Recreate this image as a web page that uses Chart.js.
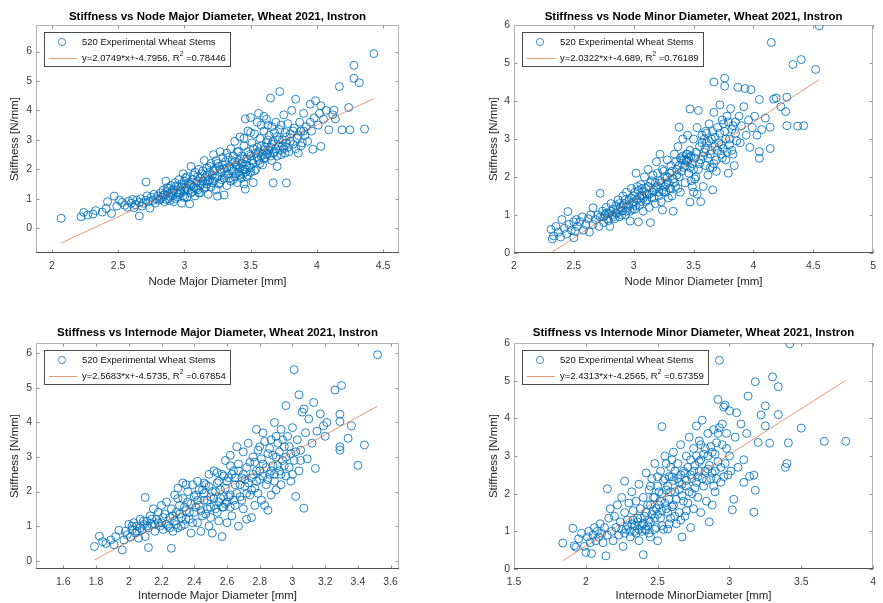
<!DOCTYPE html>
<html><head><meta charset="utf-8">
<script src="https://cdn.jsdelivr.net/npm/chart.js@4.4.0/dist/chart.umd.min.js"></script>
<style>
html,body{margin:0;padding:0;background:#fff;}
#wrap{position:relative;width:883px;height:603px;overflow:hidden;background:#fff;}
canvas{position:absolute;}
</style></head><body>
<div id="wrap">
<canvas id="c1" width="441" height="300" style="left:0;top:0"></canvas>
<canvas id="c2" width="442" height="300" style="left:441px;top:0"></canvas>
<canvas id="c3" width="441" height="303" style="left:0;top:300px"></canvas>
<canvas id="c4" width="442" height="303" style="left:441px;top:300px"></canvas>
</div>
<script>
// ---------- data ----------
const nodeMajorPts = [
[2.07,0.34],[2.22,0.39],[2.24,0.54],[2.27,0.45],[2.31,0.48],[2.33,0.6],[2.38,0.55],[2.41,0.67],[2.42,0.9],[2.45,0.5],[2.47,1.09],[2.49,0.75],
[2.51,0.95],[2.53,0.88],[2.55,0.78],[2.57,0.72],[2.58,0.92],[2.6,0.85],[2.61,0.98],[2.62,0.7],[2.63,0.8],[2.64,0.95],[2.66,0.42],[2.66,0.88],[2.67,1.0],[2.68,0.75],[2.69,0.85],[2.71,1.57],[2.71,0.95],[2.72,1.1],[2.73,0.9],[2.74,0.68],[2.75,1.05],[2.76,0.95],[2.77,1.15],[2.78,0.85],[2.79,1.0],
[2.8,1.1],[2.81,0.95],[2.82,1.2],[2.83,1.05],[2.84,1.3],[2.85,0.9],[2.85,1.15],[2.86,1.6],[2.87,1.25],[2.88,1.0],[2.88,1.35],[2.89,0.94],[2.9,1.2],[2.9,1.45],[2.91,1.1],[2.92,1.3],[2.93,1.0],[2.93,1.55],[2.94,1.2],[2.95,1.4],[2.96,1.15],[2.96,1.65],[2.97,1.3],[2.98,0.85],[2.98,1.5],[2.99,1.1],[2.99,1.85],
[3.0,1.25],[3.0,1.6],[3.01,1.4],[3.02,1.05],[3.02,1.75],[3.03,1.3],[3.04,0.83],[3.04,1.5],[3.05,2.1],[3.05,1.2],[3.06,1.65],[3.07,1.4],[3.08,1.9],[3.08,1.1],[3.09,1.55],[3.1,1.3],[3.1,1.75],[3.11,2.0],[3.12,1.45],[3.12,1.2],[3.13,1.85],[3.14,1.6],[3.15,2.3],[3.15,1.35],[3.16,1.75],[3.17,1.5],[3.17,2.05],[3.18,1.15],[3.19,1.9],[3.19,1.65],
[3.2,2.2],[3.2,1.4],[3.21,1.8],[3.22,2.5],[3.22,1.6],[3.23,2.0],[3.24,1.3],[3.24,2.3],[3.25,1.09],[3.25,1.75],[3.26,2.1],[3.27,2.6],[3.27,1.55],[3.28,1.9],[3.29,2.4],[3.3,1.13],[3.3,2.0],[3.3,1.7],[3.31,2.25],[3.32,2.55],[3.32,1.45],[3.33,1.85],[3.34,2.1],[3.35,2.7],[3.35,1.6],[3.36,2.3],[3.37,1.95],[3.37,2.45],[3.38,1.75],[3.38,2.95],[3.39,2.15],
[3.4,1.55],[3.4,2.6],[3.41,1.9],[3.41,2.3],[3.42,3.1],[3.42,2.05],[3.43,1.7],[3.43,2.45],[3.44,2.2],[3.44,1.85],[3.45,2.8],[3.45,1.5],[3.46,1.33],[3.46,2.0],[3.46,3.71],[3.47,2.35],[3.47,1.75],[3.48,2.6],[3.48,3.3],[3.49,2.1],[3.5,3.76],[3.5,1.9],[3.5,2.45],[3.51,2.9],[3.52,1.55],[3.52,2.2],[3.53,3.2],[3.54,2.55],[3.54,2.0],[3.55,2.75],[3.56,3.9],[3.56,2.3],[3.57,3.05],[3.58,2.45],[3.58,3.5],[3.59,2.15],
[3.6,2.65],[3.6,3.3],[3.61,2.4],[3.62,2.9],[3.62,3.7],[3.63,2.55],[3.64,3.15],[3.65,4.42],[3.65,2.75],[3.66,2.3],[3.66,3.45],[3.67,1.54],[3.67,2.95],[3.68,2.6],[3.69,3.6],[3.7,2.1],[3.7,3.1],[3.71,2.8],[3.72,4.64],[3.72,3.35],[3.73,2.5],[3.74,3.0],[3.75,3.85],[3.75,2.7],[3.76,3.25],[3.77,1.54],[3.77,2.9],[3.78,3.55],[3.79,2.6],
[3.8,3.2],[3.81,4.0],[3.82,2.85],[3.83,3.4],[3.84,4.38],[3.85,3.05],[3.86,2.55],[3.87,3.6],[3.88,3.3],[3.89,2.9],[3.9,3.9],[3.91,3.15],[3.92,3.45],[3.93,2.95],[3.95,4.21],[3.95,3.6],[3.96,3.3],[3.97,2.68],[3.98,3.75],[3.99,4.33],
[4.01,3.5],[4.02,3.9],[4.03,2.78],[4.03,4.16],[4.05,3.7],[4.07,4.0],[4.09,3.34],[4.12,3.85],[4.13,4.01],[4.14,3.71],[4.17,4.81],[4.19,3.34],[4.24,4.1],[4.25,3.34],[4.28,5.53],[4.28,5.09],[4.32,4.94],[4.36,3.37],[4.43,5.93],
[2.82,1.0],[2.84,1.12],[2.86,0.98],[2.87,1.38],[2.89,1.08],[2.91,1.28],[2.92,0.9],[2.94,1.45],[2.95,1.05],[2.97,1.22],[2.98,1.4],[3.0,1.05],[3.01,1.7],[3.02,1.35],[3.03,1.55],[3.05,1.45],[3.06,1.25],[3.07,1.8],[3.09,1.35],[3.1,1.6],[3.11,1.2],[3.12,1.7],[3.13,1.5],[3.14,1.95],[3.16,1.4],[3.17,1.8],[3.18,1.6],[3.19,2.1],[3.21,1.55],[3.22,1.95],[3.23,1.7],[3.25,2.2],[3.26,1.5],[3.27,2.0],[3.28,1.65],[3.29,2.15],[3.31,1.8],[3.32,2.05],[3.33,2.4],[3.34,1.7],[3.36,2.0],[3.37,1.65],[3.38,2.25],[3.39,1.85],[3.4,2.1],[3.41,2.6],[3.42,1.8],[3.43,2.2],[3.44,2.0],[3.45,2.35],[3.46,1.9],[3.47,2.15],[3.48,1.8],[3.49,2.5],[3.5,2.05],[3.51,2.3],[3.52,2.7],[3.53,1.95],[3.55,2.4],[3.56,2.6],[3.57,2.2],[3.58,2.8],[3.59,2.5],[3.6,2.35],[3.61,2.75],[3.62,2.5],[3.63,3.0],[3.64,2.65],[3.65,2.45],[3.66,2.85],[3.67,2.55],[3.68,3.25],[3.69,2.7],[3.7,2.45],[3.71,3.0],[3.72,2.65],[3.73,3.5],[3.74,2.8],[3.76,2.55],[3.77,3.1],[3.78,2.75],[3.8,2.95],[3.82,3.3],[3.84,2.7],[3.86,3.15],[3.88,2.8],[3.9,3.3],[3.5,3.25],[3.45,3.05],[3.55,3.6],[3.6,3.8],[3.63,3.5]
];
const nodeMinorPts = [
[2.31,0.62],[2.32,0.37],[2.33,0.45],[2.35,0.7],[2.37,0.55],[2.39,0.42],[2.4,0.88],[2.42,0.65],[2.44,0.5],[2.45,1.09],[2.46,0.75],[2.48,0.6],[2.5,0.4],[2.5,0.82],[2.51,0.57],[2.52,0.88],[2.53,0.7],[2.55,0.82],[2.57,0.95],[2.58,0.6],[2.6,0.75],[2.62,0.9],[2.63,0.55],[2.64,1.0],[2.66,1.19],[2.66,0.75],[2.68,0.88],[2.7,1.0],[2.71,0.7],[2.72,1.57],[2.72,0.95],[2.74,1.1],[2.75,0.8],[2.76,1.0],[2.77,1.2],[2.78,0.9],[2.79,1.05],[2.8,0.7],[2.81,1.3],[2.82,1.0],[2.83,1.15],[2.84,0.9],[2.85,1.25],[2.86,1.05],[2.87,1.4],[2.88,0.95],[2.89,1.2],[2.9,1.1],[2.91,1.5],[2.92,1.3],[2.93,1.0],[2.94,1.6],[2.95,1.2],[2.96,1.4],[2.97,0.84],[2.97,1.1],[2.98,1.7],[2.99,1.3],
[3.0,1.5],[3.01,1.15],[3.02,2.1],[3.03,1.4],[3.04,0.82],[3.04,1.65],[3.05,1.25],[3.06,1.8],[3.07,1.5],[3.08,1.1],[3.09,2.0],[3.1,1.35],[3.1,1.7],[3.11,1.55],[3.12,2.2],[3.13,1.2],[3.14,0.8],[3.14,1.85],[3.15,1.45],[3.16,2.05],[3.17,1.65],[3.18,1.3],[3.19,2.4],[3.2,1.75],[3.21,1.5],[3.22,2.6],[3.22,1.9],[3.23,1.35],[3.24,1.13],[3.24,2.2],[3.25,1.6],[3.26,2.0],[3.27,1.8],[3.28,2.45],[3.29,1.45],[3.3,2.1],[3.3,1.7],
[3.31,2.3],[3.32,1.5],[3.33,1.1],[3.33,1.95],[3.34,2.6],[3.35,1.75],[3.36,2.2],[3.37,2.8],[3.38,3.31],[3.38,2.0],[3.39,1.6],[3.4,2.45],[3.41,3.0],[3.42,2.25],[3.43,1.85],[3.44,2.6],[3.45,2.4],[3.45,3.1],[3.46,2.1],[3.47,1.34],[3.47,3.79],[3.47,2.7],[3.48,1.9],[3.49,2.35],[3.5,3.0],[3.5,1.6],[3.51,2.5],[3.52,2.0],[3.53,3.3],[3.54,3.75],[3.54,2.2],[3.55,2.8],[3.56,1.35],[3.56,2.45],[3.57,3.1],[3.58,1.75],[3.59,2.65],[3.6,3.2],
[3.6,2.3],[3.61,2.9],[3.62,2.05],[3.63,3.4],[3.64,2.6],[3.65,3.0],[3.66,1.66],[3.66,2.25],[3.67,4.5],[3.67,3.7],[3.68,2.8],[3.69,2.45],[3.7,3.3],[3.71,2.9],[3.72,3.9],[3.73,2.6],[3.74,3.5],[3.75,2.75],[3.76,4.6],[3.76,4.39],[3.76,3.2],[3.77,2.45],[3.78,3.6],[3.79,2.1],[3.8,3.0],[3.81,3.8],[3.82,2.7],[3.83,3.35],[3.84,2.3],
[3.85,3.15],[3.87,4.36],[3.88,3.6],[3.89,2.9],[3.9,3.35],[3.92,3.85],[3.93,4.33],[3.94,3.1],[3.96,3.5],[3.97,2.78],[3.98,4.3],[3.99,3.3],[4.01,3.6],[4.03,3.1],[4.05,4.04],[4.05,2.67],[4.05,2.49],[4.07,3.25],[4.1,3.55],[4.14,3.31],[4.14,2.75],[4.15,5.54],[4.17,4.05],[4.19,4.08],[4.23,3.85],[4.27,3.72],[4.28,3.35],[4.28,4.1],[4.33,4.96],[4.37,3.34],[4.4,5.09],[4.42,3.35],[4.52,4.83],[4.55,5.98],
[2.75,0.95],[2.77,1.05],[2.79,0.85],[2.81,1.1],[2.83,0.95],[2.85,1.05],[2.87,1.15],[2.88,1.3],[2.9,1.0],[2.91,1.25],[2.93,1.4],[2.94,1.1],[2.96,1.25],[2.98,1.45],[2.99,1.15],[3.0,1.35],[3.01,1.6],[3.02,1.25],[3.03,1.75],[3.05,1.5],[3.06,1.35],[3.07,1.7],[3.08,1.45],[3.09,1.6],[3.11,1.4],[3.12,1.75],[3.13,1.55],[3.15,1.9],[3.16,1.6],[3.17,1.45],[3.18,1.85],[3.19,1.7],[3.2,2.1],[3.21,1.6],[3.23,1.85],[3.24,1.65],[3.25,2.15],[3.26,1.75],[3.27,1.6],[3.28,2.0],[3.29,1.85],[3.31,1.7],[3.32,2.15],[3.34,1.85],[3.35,2.4],[3.36,2.05],[3.37,1.7],[3.38,2.3],[3.39,2.5],[3.4,2.15],[3.41,2.55],[3.42,2.45],[3.43,2.3],[3.44,2.45],[3.45,2.6],[3.46,2.5],[3.47,2.25],[3.48,2.55],[3.49,1.75],[3.5,2.2],[3.51,1.95],[3.52,2.65],[3.53,1.55],[3.55,2.35],[3.57,2.9],[3.58,2.55],[3.59,3.0],[3.6,2.75],[3.61,3.15],[3.62,2.5],[3.63,2.95],[3.64,2.25],[3.65,2.7],[3.66,3.2],[3.67,2.35],[3.68,3.05],[3.69,2.15],[3.7,2.7],[3.72,3.15],[3.73,2.85],[3.74,2.5],[3.75,3.4],[3.77,3.0],[3.78,2.65],[3.79,3.45],[3.8,2.85],[3.82,3.25],[3.83,2.6],[3.85,3.45],[3.86,2.95]
];
const internodeMajorPts = [
[1.79,0.41],[1.82,0.71],[1.84,0.55],[1.86,0.5],[1.89,0.6],[1.91,0.46],[1.92,0.7],[1.94,0.88],[1.96,0.31],[1.97,0.6],[1.98,0.85],[1.99,0.75],[2.0,1.05],[2.01,0.68],[2.02,0.9],[2.03,1.1],[2.04,0.8],[2.05,1.0],[2.06,0.65],[2.07,1.2],[2.08,0.9],[2.09,1.05],[2.1,1.83],[2.1,0.7],[2.11,1.15],[2.12,0.38],[2.12,0.95],[2.13,1.3],[2.14,1.05],[2.15,1.5],[2.16,0.85],[2.17,1.2],[2.18,1.4],[2.19,1.0],
[2.2,1.6],[2.2,1.1],[2.21,0.9],[2.22,1.35],[2.23,1.7],[2.24,1.0],[2.25,1.25],[2.26,0.36],[2.26,1.5],[2.27,0.85],[2.28,1.9],[2.28,1.15],[2.29,1.4],[2.3,2.1],[2.3,0.95],[2.31,1.6],[2.32,1.25],[2.33,1.8],[2.33,2.25],[2.34,1.05],[2.35,1.45],[2.36,2.0],[2.37,1.2],[2.38,0.8],[2.38,1.65],[2.39,2.2],
[2.4,1.4],[2.41,1.9],[2.42,1.1],[2.42,2.3],[2.43,1.6],[2.44,0.85],[2.45,2.05],[2.45,1.3],[2.46,1.75],[2.47,2.2],[2.48,1.5],[2.49,1.0],[2.49,2.5],[2.5,1.85],[2.5,1.25],[2.51,0.8],[2.52,2.6],[2.52,1.6],[2.53,2.0],[2.54,1.4],[2.55,2.3],[2.55,1.15],[2.56,1.8],[2.57,0.7],[2.57,2.5],[2.58,1.55],[2.59,2.1],[2.59,2.9],
[2.6,1.7],[2.6,1.1],[2.61,2.4],[2.62,3.05],[2.62,1.9],[2.63,1.3],[2.64,2.6],[2.65,2.2],[2.65,1.6],[2.66,3.3],[2.67,1.0],[2.67,2.8],[2.68,1.85],[2.69,2.4],[2.7,3.15],[2.7,1.5],[2.71,2.15],[2.72,1.2],[2.72,2.7],[2.73,3.4],[2.74,1.9],[2.75,2.4],[2.75,1.25],[2.76,3.0],[2.77,2.1],[2.77,1.6],[2.78,3.8],[2.78,2.6],[2.79,1.95],
[2.8,3.3],[2.8,2.35],[2.81,1.75],[2.82,3.7],[2.82,2.8],[2.83,1.6],[2.84,2.2],[2.85,1.46],[2.85,3.1],[2.86,2.5],[2.87,3.5],[2.87,1.9],[2.88,2.75],[2.89,4.0],[2.89,2.3],[2.9,3.0],[2.9,2.05],[2.91,3.4],[2.92,2.6],[2.93,3.8],[2.93,2.2],[2.94,2.9],[2.95,3.3],[2.96,4.49],[2.96,2.45],[2.97,3.6],[2.98,2.7],[2.99,3.1],[2.99,2.3],
[3.0,3.85],[3.01,5.53],[3.01,2.9],[3.02,1.86],[3.03,3.5],[3.04,4.8],[3.04,2.6],[3.05,3.2],[3.06,4.3],[3.07,1.52],[3.07,4.39],[3.08,3.7],[3.09,2.95],[3.1,4.1],[3.12,3.4],[3.13,4.58],[3.14,2.67],[3.15,3.75],[3.17,4.25],[3.19,3.9],[3.2,3.6],[3.21,4.0],[3.26,4.94],[3.29,4.24],[3.29,4.03],[3.29,3.3],[3.29,3.2],[3.3,5.07],[3.34,3.54],[3.36,3.9],[3.4,2.76],[3.44,3.35],[3.52,5.96],
[2.02,1.0],[2.05,0.85],[2.07,0.95],[2.09,1.15],[2.11,1.0],[2.14,1.2],[2.16,1.05],[2.18,1.1],[2.21,1.25],[2.23,1.05],[2.25,0.95],[2.27,1.3],[2.29,1.05],[2.31,1.35],[2.32,1.0],[2.34,1.55],[2.35,1.2],[2.36,1.7],[2.37,1.4],[2.39,1.1],[2.4,1.85],[2.41,1.55],[2.42,1.75],[2.43,2.05],[2.44,1.45],[2.46,1.95],[2.47,1.35],[2.48,1.75],[2.49,2.15],[2.5,1.55],[2.51,2.0],[2.52,1.8],[2.53,1.5],[2.54,2.25],[2.55,1.7],[2.56,2.05],[2.57,1.55],[2.58,1.85],[2.59,1.65],[2.6,2.3],[2.61,1.85],[2.62,1.55],[2.63,2.5],[2.64,1.75],[2.65,2.4],[2.66,1.95],[2.67,2.6],[2.68,2.2],[2.69,1.75],[2.7,2.5],[2.71,2.35],[2.72,1.95],[2.73,2.25],[2.74,2.85],[2.75,2.05],[2.76,2.5],[2.77,2.85],[2.78,2.3],[2.79,3.2],[2.8,2.6],[2.81,2.95],[2.82,2.45],[2.83,3.45],[2.84,2.7],[2.85,2.35],[2.86,3.25],[2.87,2.6],[2.88,3.05],[2.89,2.5],[2.9,3.6],[2.91,2.75],[2.92,3.15],[2.93,2.5],[2.94,3.5],[2.95,2.75],[2.96,3.0],[2.98,3.3],[3.0,2.5],[3.02,3.15],[3.05,2.9],[2.62,2.75],[2.58,2.45],[2.54,2.55],[2.46,2.25],[2.35,2.2],[2.3,1.8]
];
const internodeMinorPts = [
[1.84,0.69],[1.91,1.08],[1.92,0.62],[1.93,0.58],[1.95,0.8],[1.97,0.95],[1.99,0.6],[2.0,0.44],[2.01,0.85],[2.02,1.0],[2.03,0.7],[2.04,0.41],[2.05,0.9],[2.06,1.1],[2.07,0.75],[2.08,1.0],[2.09,0.85],[2.1,1.2],[2.11,0.95],[2.12,0.7],[2.13,1.1],[2.14,0.35],[2.15,2.13],[2.15,0.9],[2.16,1.35],[2.17,1.6],[2.18,1.0],[2.19,0.75],
[2.2,1.4],[2.21,1.1],[2.22,1.7],[2.23,0.9],[2.24,1.25],[2.25,1.9],[2.26,0.6],[2.27,2.33],[2.27,1.5],[2.28,1.05],[2.29,1.3],[2.3,1.75],[2.31,0.85],[2.32,2.05],[2.32,1.2],[2.33,1.55],[2.34,1.0],[2.35,1.8],[2.36,1.35],[2.37,2.25],[2.37,0.75],[2.38,1.6],[2.39,1.15],
[2.4,0.38],[2.4,1.9],[2.41,1.4],[2.42,2.55],[2.42,1.05],[2.43,1.7],[2.44,2.1],[2.45,1.25],[2.45,0.85],[2.46,2.4],[2.47,1.55],[2.48,1.9],[2.48,2.8],[2.49,1.1],[2.5,2.2],[2.5,0.75],[2.51,1.7],[2.52,2.6],[2.52,1.35],[2.53,3.78],[2.53,2.0],[2.54,1.05],[2.55,2.4],[2.55,3.0],[2.56,1.6],[2.57,1.06],[2.57,2.2],[2.58,1.85],[2.59,2.7],[2.59,1.35],
[2.6,2.45],[2.61,3.1],[2.61,1.7],[2.62,2.05],[2.63,1.2],[2.64,2.8],[2.65,2.3],[2.65,1.5],[2.66,3.3],[2.67,0.85],[2.67,1.95],[2.68,2.6],[2.69,1.4],[2.7,3.0],[2.7,2.2],[2.71,1.75],[2.72,3.5],[2.73,1.1],[2.73,2.5],[2.74,2.0],[2.75,3.2],[2.75,1.6],[2.76,2.75],[2.77,3.8],[2.77,2.3],[2.78,1.9],[2.79,3.4],[2.79,2.6],
[2.8,1.5],[2.8,2.9],[2.81,3.95],[2.82,2.2],[2.83,3.2],[2.84,1.8],[2.85,2.65],[2.85,3.6],[2.86,1.25],[2.87,2.4],[2.88,3.1],[2.88,1.7],[2.89,3.7],[2.9,2.6],[2.9,2.05],[2.91,3.35],[2.92,4.5],[2.92,2.85],[2.93,5.54],[2.93,3.75],[2.94,2.3],[2.95,3.3],[2.96,4.3],[2.97,4.35],[2.97,2.8],[2.98,3.6],[2.99,2.5],
[3.0,4.2],[3.0,3.0],[3.01,2.6],[3.02,1.57],[3.03,1.85],[3.04,3.5],[3.05,4.15],[3.06,2.7],[3.08,3.85],[3.1,2.3],[3.1,2.9],[3.12,3.6],[3.13,4.59],[3.14,2.46],[3.17,2.49],[3.17,1.51],[3.18,4.97],[3.18,2.09],[3.2,3.36],[3.22,4.09],[3.25,4.33],[3.25,3.8],[3.28,3.34],[3.3,5.1],[3.34,4.84],[3.34,4.1],[3.39,2.7],[3.4,2.8],[3.41,3.35],[3.42,5.98],[3.5,3.74],[3.66,3.39],[3.81,3.39],
[2.25,1.05],[2.27,0.95],[2.29,1.15],[2.31,1.0],[2.33,1.3],[2.34,1.15],[2.35,0.95],[2.36,1.25],[2.37,1.05],[2.38,1.35],[2.39,1.0],[2.4,1.2],[2.41,1.05],[2.42,1.5],[2.43,1.15],[2.44,1.3],[2.45,1.7],[2.46,1.45],[2.47,1.9],[2.48,1.35],[2.49,1.6],[2.5,1.45],[2.51,2.05],[2.52,1.8],[2.53,1.55],[2.54,2.35],[2.55,1.75],[2.56,2.1],[2.57,1.5],[2.58,2.45],[2.59,2.05],[2.6,1.65],[2.61,2.35],[2.62,2.6],[2.63,1.85],[2.64,2.4],[2.65,2.1],[2.66,2.5],[2.67,2.25],[2.68,1.8],[2.69,2.55],[2.7,2.35],[2.71,2.7],[2.72,2.05],[2.73,2.9],[2.74,2.4],[2.75,2.6],[2.76,2.15],[2.77,3.0],[2.78,2.45],[2.79,2.85],[2.8,3.3],[2.81,2.4],[2.82,3.05],[2.83,2.6],[2.84,2.35],[2.85,3.0],[2.86,2.75],[2.87,3.25],[2.88,2.55],[2.89,2.2],[2.9,3.05],[2.91,2.4],[2.92,3.6],[2.94,2.7],[2.95,3.85],[2.96,2.45],[2.98,3.2],[2.5,2.45],[2.45,2.2],[2.56,2.8],[2.6,2.9],[2.66,1.3],[2.7,1.55],[2.62,1.4],[2.58,1.2],[2.53,1.15],[2.48,1.05],[2.44,0.95]
];

// linear-fit end points
const nodeMajorFitX = [2.07, 4.43];       const nodeMajorFitY = [-0.50, 4.40];
const nodeMinorFitX = [2.32, 4.55];       const nodeMinorFitY = [0.03, 4.56];
const internodeMajorFitX = [1.79, 3.52];  const internodeMajorFitY = [0.02, 4.47];
const internodeMinorFitX = [1.84, 3.81];  const internodeMinorFitY = [0.22, 5.01];

// tick labels
const nodeMajorXTicks = [2, 2.5, 3, 3.5, 4, 4.5];
const nodeMinorXTicks = [2, 2.5, 3, 3.5, 4, 4.5, 5];
const internodeMajorXTicks = [1.6, 1.8, 2, 2.2, 2.4, 2.6, 2.8, 3, 3.2, 3.4, 3.6];
const internodeMinorXTicks = [1.5, 2, 2.5, 3, 3.5, 4];
const stiffnessTicks = [0, 1, 2, 3, 4, 5, 6];

// texts
const titles = [
  'Stiffness vs Node Major Diameter, Wheat 2021, Instron',
  'Stiffness vs Node Minor Diameter, Wheat 2021, Instron',
  'Stiffness vs Internode Major Diameter, Wheat 2021, Instron',
  'Stiffness vs Internode Minor Diameter, Wheat 2021, Instron'
];
const xLabels = ['Node Major Diameter [mm]', 'Node Minor Diameter [mm]', 'Internode Major Diameter [mm]', 'Internode MinorDiameter [mm]'];
const yLabel = 'Stiffness [N/mm]';
const seriesLabel = '520 Experimental Wheat Stems';
const fitEquations = ['y=2.0749*x+-4.7956', 'y=2.0322*x+-4.689', 'y=2.5683*x+-4.5735', 'y=2.4313*x+-4.2565'];
const r2Values = ['0.78446', '0.76189', '0.67854', '0.57359'];

// ---------- drawing ----------
const FONT = "'Liberation Sans', Arial, Helvetica, sans-serif";
const BLUE = 'rgba(0,114,189,0.85)';
const ORANGE = 'rgba(217,83,25,0.6)';

const panels = [
  {id:'c1', pts:nodeMajorPts, fx:nodeMajorFitX, fy:nodeMajorFitY, xt:nodeMajorXTicks, xr:[1.88,4.62], yr:[-0.84,6.9], k:0,
   lay:{yW:36, R:42, xH:47, tTop:10.1, tBot:1.1, xtBot:11.1, ytTop:8.1}},
  {id:'c2', pts:nodeMinorPts, fx:nodeMinorFitX, fy:nodeMinorFitY, xt:nodeMinorXTicks, xr:[2,5], yr:[0,6], k:1,
   lay:{yW:73, R:6, xH:47, tTop:10.1, tBot:1.1, xtBot:11.1, ytTop:46.1}},
  {id:'c3', pts:internodeMajorPts, fx:internodeMajorFitX, fy:internodeMajorFitY, xt:internodeMajorXTicks, xr:[1.433,3.651], yr:[-0.24,6.3], k:2,
   lay:{yW:36, R:42, xH:34, tTop:26.1, tBot:3.1, xtBot:0.1, ytTop:8.1}},
  {id:'c4', pts:internodeMinorPts, fx:internodeMinorFitX, fy:internodeMinorFitY, xt:internodeMinorXTicks, xr:[1.5,4], yr:[0,6], k:3,
   lay:{yW:73, R:6, xH:34, tTop:26.1, tBot:3.1, xtBot:0.1, ytTop:46.1}}
];

function fmt(v){ return String(Math.round(v*100)/100); }

const framePlugin = {
  id:'frame',
  beforeDatasetsDraw(chart){
    const {ctx, chartArea:ca, scales:{x, y}} = chart;
    ctx.save();
    ctx.lineWidth = 1;
    ctx.strokeStyle = '#8f8f8f';
    ctx.beginPath();
    x.ticks.forEach(t => {
      const px = Math.round(x.getPixelForValue(t.value)) + 0.5;
      ctx.moveTo(px, ca.bottom); ctx.lineTo(px, ca.bottom - 3.5);
      ctx.moveTo(px, ca.top); ctx.lineTo(px, ca.top + 3.5);
    });
    y.ticks.forEach(t => {
      const py = Math.round(y.getPixelForValue(t.value)) + 0.5;
      ctx.moveTo(ca.left, py); ctx.lineTo(ca.left + 3.5, py);
      ctx.moveTo(ca.right, py); ctx.lineTo(ca.right - 3.5, py);
    });
    ctx.stroke();
    const L = Math.round(ca.left) + 0.5, T = Math.round(ca.top) + 0.5,
          Rr = Math.round(ca.right) - 0.5, B = Math.round(ca.bottom) - 0.5;
    ctx.strokeStyle = '#b3b3b3';
    ctx.beginPath();
    ctx.moveTo(L, B); ctx.lineTo(L, T); ctx.lineTo(Rr, T); ctx.lineTo(Rr, B);
    ctx.stroke();
    ctx.strokeStyle = '#505050';
    ctx.beginPath(); ctx.moveTo(L - 0.5, B); ctx.lineTo(Rr + 0.5, B); ctx.stroke();
    ctx.restore();
  }
};

function legendPlugin(k){
  return {
    id:'boxLegend',
    afterDraw(chart){
      const {ctx, chartArea:ca} = chart;
      const x0 = Math.round(ca.left) + 8, y0 = Math.round(ca.top) + 7;
      ctx.save();
      const f = '9.5px ' + FONT, fs = '6.5px ' + FONT;
      ctx.font = f;
      const w1 = ctx.measureText(seriesLabel).width;
      const p1 = fitEquations[k] + ', R', p2 = ' =' + r2Values[k];
      const wp1 = ctx.measureText(p1).width, wp2 = ctx.measureText(p2).width;
      ctx.font = fs;
      const ws = ctx.measureText('2').width;
      const w = 38 + Math.max(w1, wp1 + ws + wp2) + 4, h = 34;
      ctx.fillStyle = '#fff';
      ctx.fillRect(x0, y0, w, h);
      ctx.strokeStyle = '#4a4a4a'; ctx.lineWidth = 1;
      ctx.strokeRect(x0 + 0.5, y0 + 0.5, Math.round(w), h);
      ctx.strokeStyle = BLUE; ctx.lineWidth = 0.9;
      ctx.beginPath(); ctx.arc(x0 + 18, y0 + 10, 3.6, 0, Math.PI * 2); ctx.stroke();
      ctx.strokeStyle = ORANGE; ctx.lineWidth = 1;
      ctx.beginPath(); ctx.moveTo(x0 + 5, y0 + 26.5); ctx.lineTo(x0 + 33, y0 + 26.5); ctx.stroke();
      ctx.fillStyle = '#111';
      ctx.textBaseline = 'middle'; ctx.textAlign = 'left';
      ctx.font = f;
      ctx.fillText(seriesLabel, x0 + 38, y0 + 10);
      ctx.fillText(p1, x0 + 38, y0 + 26);
      ctx.font = fs;
      ctx.fillText('2', x0 + 38 + wp1, y0 + 22.5);
      ctx.font = f;
      ctx.fillText(p2, x0 + 38 + wp1 + ws, y0 + 26);
      ctx.restore();
    }
  };
}

panels.forEach(p => {
  const L = p.lay;
  new Chart(document.getElementById(p.id), {
    type: 'scatter',
    data: {
      datasets: [
        {
          type: 'line',
          label: 'fit',
          data: p.fx.map((v, i) => ({x: v, y: p.fy[i]})),
          borderColor: ORANGE, borderWidth: 1, pointRadius: 0, fill: false, tension: 0
        },
        {
          label: seriesLabel,
          data: p.pts.map(d => ({x: d[0], y: d[1]})),
          pointStyle: 'circle', pointRadius: 4, pointBorderWidth: 1,
          borderColor: BLUE, backgroundColor: 'rgba(0,0,0,0)',
          pointBorderColor: BLUE, pointBackgroundColor: 'rgba(0,0,0,0)'
        }
      ]
    },
    options: {
      responsive: false, animation: false, devicePixelRatio: 1,
      layout: {padding: {left: 0, top: 0, right: L.R, bottom: 0}},
      events: [],
      plugins: {
        legend: {display: false},
        tooltip: {enabled: false},
        title: {
          display: true, text: titles[p.k], fullSize: false, color: '#000',
          font: {family: FONT, size: 11.5, weight: 'bold', lineHeight: 1.2},
          padding: {top: L.tTop, bottom: L.tBot}
        }
      },
      scales: {
        x: {
          type: 'linear', min: p.xr[0], max: p.xr[1],
          afterBuildTicks: s => { s.ticks = p.xt.map(v => ({value: v})); },
          afterFit: s => { s.height = L.xH; },
          grid: {display: false, drawTicks: false},
          border: {display: false},
          ticks: {autoSkip: false, maxRotation: 0, padding: 7, color: '#3a3a3a',
                  font: {family: FONT, size: 10.5}, callback: v => fmt(v)},
          title: {display: true, text: xLabels[p.k], color: '#262626',
                  font: {family: FONT, size: 11.5, lineHeight: 1.2}, padding: {top: 0, bottom: L.xtBot}}
        },
        y: {
          type: 'linear', min: p.yr[0], max: p.yr[1],
          afterBuildTicks: s => { s.ticks = stiffnessTicks.map(v => ({value: v})); },
          afterFit: s => { s.width = L.yW; },
          grid: {display: false, drawTicks: false},
          border: {display: false},
          ticks: {autoSkip: false, padding: 4, color: '#3a3a3a',
                  font: {family: FONT, size: 10.5}, callback: v => fmt(v)},
          title: {display: true, text: yLabel, color: '#262626',
                  font: {family: FONT, size: 11.5, lineHeight: 1.2}, padding: {top: L.ytTop, bottom: 0}}
        }
      }
    },
    plugins: [framePlugin, legendPlugin(p.k)]
  });
});
</script>
</body></html>
